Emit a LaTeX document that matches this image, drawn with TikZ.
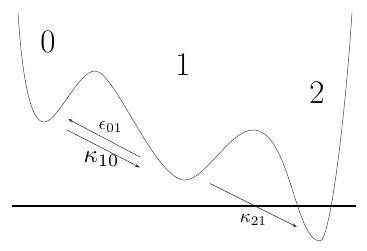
\documentclass[tikz,border=0pt]{standalone}
\usepackage{fontspec}
\usepackage{graphicx}
\usetikzlibrary{arrows.meta}
\begin{document}
\begin{tikzpicture}[x=1pt,y=-1pt,
  pot/.style={draw=black!75,line width=0.5pt},
  base/.style={draw=black,line width=1.3pt},
  rate/.style={draw=black!85,line width=0.5pt,-{Stealth[length=5pt,width=3pt]}},
  well/.style={font=\fontsize{33}{33}\selectfont,inner sep=0pt},
  lab/.style={inner sep=0pt}]
\useasboundingbox (0,0) rectangle (367,251);
% potential curve
\draw[pot] (18,13) .. controls (22,75) and (30,122) .. (44,122)
  .. controls (58,122) and (78,71) .. (95,71)
  .. controls (115,71) and (155,180) .. (185,180)
  .. controls (205,180) and (230,130) .. (253,130)
  .. controls (290,130) and (295,241) .. (320,241)
  .. controls (330,241) and (345,120) .. (352,13);
% baseline
\coordinate (bl) at (12,206);
\coordinate (br) at (356,206);
\draw[base] (bl) -- (br);
% well labels
\node[well] (w0) at (48,42) {0};
\node[well] (w1) at (183,65) {1};
\node[well] (w2) at (317,93) {2};
% rate arrows
\coordinate (e01s) at (140,157);
\coordinate (e01t) at (68,119);
\coordinate (k10s) at (67,130);
\coordinate (k10t) at (140,167.5);
\coordinate (k21s) at (210,183.5);
\coordinate (k21t) at (297,227);
\draw[rate] (e01s) -- (e01t);
\draw[rate] (k10s) -- (k10t);
\draw[rate] (k21s) -- (k21t);
\node[lab] (le) at (110.5,127) {\scalebox{1.9}{$\epsilon_{01}$}};
\node[lab] (lk10) at (101.5,159) {\scalebox{2.5}{$\kappa_{10}$}};
\node[lab] (lk21) at (253.5,220) {\scalebox{1.9}{$\kappa_{21}$}};
\end{tikzpicture}
\end{document}
